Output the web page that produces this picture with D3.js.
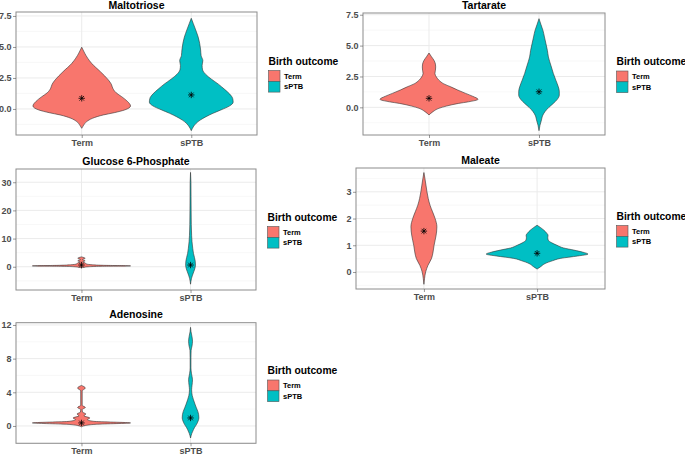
<!DOCTYPE html>
<html>
<head>
<meta charset="utf-8">
<script src="https://cdn.jsdelivr.net/npm/d3@7"></script>
<style>
  html, body { margin: 0; padding: 0; background: #fff; }
  svg { display: block; }
</style>
</head>
<body>
<svg id="chart" width="685" height="455"></svg>
<script>
// ---------------- DATA ----------------
const categories = ["Term", "sPTB"];
const legendTitle = "Birth outcome";
const panelTitles = ["Maltotriose", "Tartarate", "Glucose 6-Phosphate", "Maleate", "Adenosine"];

// y ticks per panel
const ticksMaltotriose = [0, 2.5, 5, 7.5];
const ticksTartarate   = [0, 2.5, 5, 7.5];
const ticksG6P         = [0, 10, 20, 30];
const ticksMaleate     = [0, 1, 2, 3];
const ticksAdenosine   = [0, 4, 8, 12];

// violin profiles: [value, relative half-width (1 = widest allowed)]
const maltTerm = [[4.98,0],[4.5,0.06],[4.1,0.12],[3.68,0.2],[3.0,0.38],[2.34,0.54],[2.0,0.6],[1.67,0.63],[1.3,0.7],[0.99,0.81],[0.6,0.93],[0.24,0.99],[-0.08,0.87],[-0.3,0.66],[-0.48,0.44],[-0.75,0.22],[-1.02,0.1],[-1.3,0.04],[-1.56,0]];
const maltSPTB = [[7.31,0],[6.9,0.04],[6.37,0.09],[5.8,0.14],[5.3,0.17],[4.76,0.19],[4.3,0.2],[3.9,0.235],[3.5,0.22],[3.15,0.23],[2.8,0.29],[2.4,0.41],[2.0,0.55],[1.6,0.67],[1.2,0.78],[0.85,0.84],[0.55,0.85],[0.25,0.78],[-0.08,0.6],[-0.35,0.44],[-0.62,0.3],[-0.9,0.18],[-1.15,0.1],[-1.45,0.04],[-1.75,0]];
const tartTerm = [[4.4,0],[4.1,0.05],[3.81,0.1],[3.5,0.13],[3.27,0.135],[3.0,0.13],[2.74,0.12],[2.45,0.15],[2.2,0.2],[1.9,0.3],[1.66,0.44],[1.4,0.58],[1.13,0.74],[0.9,0.88],[0.65,0.99],[0.45,0.8],[0.32,0.6],[0.1,0.35],[-0.08,0.2],[-0.35,0.08],[-0.62,0]];
const tartSPTB = [[7.18,0],[6.7,0.04],[6.23,0.08],[5.7,0.11],[5.16,0.14],[4.6,0.17],[4.08,0.19],[3.4,0.24],[2.74,0.29],[2.2,0.34],[1.66,0.39],[1.3,0.41],[0.99,0.41],[0.65,0.37],[0.32,0.29],[0.0,0.2],[-0.35,0.12],[-0.7,0.07],[-1.02,0.05],[-1.45,0.02],[-1.89,0]];
const g6pTerm  = [[3.5,0],[3.0,0.075],[2.55,0.02],[2.1,0.075],[1.7,0.025],[1.3,0.08],[1.0,0.1],[0.75,0.18],[0.5,0.45],[0.3,1.0],[0.15,0.4],[0.0,0.15],[-0.2,0.05],[-0.4,0]];
const g6pSPTB  = [[33.5,0],[30,0.008],[25,0.01],[20,0.012],[15,0.015],[11,0.022],[8.9,0.03],[6.5,0.045],[4.7,0.06],[3.3,0.08],[2.0,0.095],[0.6,0.1],[-0.8,0.085],[-1.8,0.065],[-3,0.04],[-4.1,0.02],[-5.2,0.008],[-6.2,0]];
const maleTerm = [[3.72,0],[3.5,0.02],[3.25,0.04],[3.0,0.06],[2.75,0.085],[2.5,0.12],[2.25,0.17],[2.0,0.22],[1.69,0.255],[1.38,0.24],[1.0,0.2],[0.75,0.18],[0.51,0.15],[0.25,0.08],[0.01,0.035],[-0.25,0.012],[-0.46,0]];
const maleSPTB = [[1.75,0],[1.66,0.07],[1.57,0.13],[1.45,0.19],[1.38,0.215],[1.28,0.21],[1.19,0.22],[1.1,0.28],[1.0,0.39],[0.9,0.52],[0.82,0.72],[0.74,0.9],[0.67,1.0],[0.6,0.8],[0.51,0.46],[0.42,0.3],[0.32,0.16],[0.2,0.07],[0.11,0]];
const adenTerm = [[4.82,0],[4.5,0.08],[4.18,0.015],[2.45,0.015],[2.2,0.08],[1.95,0.015],[1.65,0.02],[1.43,0.09],[1.2,0.05],[0.95,0.17],[0.75,0.12],[0.55,0.25],[0.36,1.0],[0.2,0.3],[0.05,0.08],[-0.1,0]];
const adenSPTB = [[11.72,0],[11.2,0.01],[10.6,0.03],[10.06,0.04],[9.5,0.03],[9.0,0.012],[8.1,0.008],[6.9,0.008],[6.2,0.02],[5.5,0.04],[4.8,0.03],[4.3,0.022],[3.6,0.035],[3.1,0.06],[2.6,0.09],[2.14,0.12],[1.7,0.15],[1.34,0.165],[0.95,0.17],[0.6,0.155],[0.16,0.12],[-0.2,0.08],[-0.43,0.06],[-0.9,0.025],[-1.43,0]];

// mean markers (asterisks): [Term, sPTB]
const meanMaltotriose = [0.86, 1.13];
const meanTartarate   = [0.73, 1.26];
const meanG6P         = [0.6, 0.6];
const meanMaleate     = [1.53, 0.7];
const meanAdenosine   = [0.36, 0.95];

// y-axis limits (as displayed)
const domMaltotriose = [-2.10, 7.82];
const domTartarate   = [-2.24, 7.64];
const domG6P         = [-8.26, 34.7];
const domMaleate     = [-0.635, 3.89];
const domAdenosine   = [-2.06, 12.27];

// ---------------- STYLE / LAYOUT ----------------
const colors = { "Term": "#F8766D", "sPTB": "#00BFC4" };
const FONT = "'Liberation Sans', Arial, Helvetica, sans-serif";

const panels = [
  { title: panelTitles[0], ticks: ticksMaltotriose, fmt: d3.format(".1f"), dom: domMaltotriose, v: [maltTerm, maltSPTB], mean: meanMaltotriose, x0: 16,  x1: 257, y0: 12,    y1: 135 },
  { title: panelTitles[1], ticks: ticksTartarate,   fmt: d3.format(".1f"), dom: domTartarate,   v: [tartTerm, tartSPTB], mean: meanTartarate,   x0: 363, x1: 605, y0: 13,    y1: 135 },
  { title: panelTitles[2], ticks: ticksG6P,         fmt: d3.format("d"),   dom: domG6P,         v: [g6pTerm, g6pSPTB],   mean: meanG6P,         x0: 16,  x1: 256, y0: 169,   y1: 290 },
  { title: panelTitles[3], ticks: ticksMaleate,     fmt: d3.format("d"),   dom: domMaleate,     v: [maleTerm, maleSPTB], mean: meanMaleate,     x0: 356, x1: 605, y0: 168,   y1: 289 },
  { title: panelTitles[4], ticks: ticksAdenosine,   fmt: d3.format("d"),   dom: domAdenosine,   v: [adenTerm, adenSPTB], mean: meanAdenosine,   x0: 16,  x1: 256, y0: 322.7, y1: 443.3 }
];

const svg = d3.select("#chart");
svg.append("rect").attr("width", 685).attr("height", 455).attr("fill", "#fff");

panels.forEach(p => {
  const g = svg.append("g");
  const x = d3.scalePoint().domain(categories).range([p.x0, p.x1]).padding(0.6);
  const y = d3.scaleLinear().domain(p.dom).range([p.y1, p.y0]);
  const maxHW = 0.45 * x.step();

  // minor grid
  const step = p.ticks[1] - p.ticks[0];
  const minors = [];
  for (let t = p.ticks[0] - step / 2; t <= p.dom[1]; t += step) {
    if (t >= p.dom[0]) minors.push(t);
  }
  g.selectAll(".minor").data(minors).join("line")
    .attr("x1", p.x0).attr("x2", p.x1)
    .attr("y1", d => y(d)).attr("y2", d => y(d))
    .attr("stroke", "#F4F4F4").attr("stroke-width", 0.6);
  // major grid
  g.selectAll(".major").data(p.ticks).join("line")
    .attr("x1", p.x0).attr("x2", p.x1)
    .attr("y1", d => y(d)).attr("y2", d => y(d))
    .attr("stroke", "#EBEBEB").attr("stroke-width", 1);
  g.selectAll(".majorx").data(categories).join("line")
    .attr("x1", d => x(d)).attr("x2", d => x(d))
    .attr("y1", p.y0).attr("y2", p.y1)
    .attr("stroke", "#EBEBEB").attr("stroke-width", 1);

  // violins
  categories.forEach((c, i) => {
    const cx = x(c);
    const prof = p.v[i].slice().sort((a, b) => b[0] - a[0]);
    const area = d3.area()
      .curve(d3.curveMonotoneY)
      .y(d => y(d[0]))
      .x0(d => cx - maxHW * d[1])
      .x1(d => cx + maxHW * d[1]);
    g.append("path").attr("d", area(prof))
      .attr("fill", colors[c])
      .attr("stroke", "#333333").attr("stroke-width", 0.6)
      .attr("stroke-linejoin", "round");
  });

  // mean asterisks
  categories.forEach((c, i) => {
    const cx = x(c), cy = y(p.mean[i]), r = 3.2;
    const d = `M${cx - r},${cy}L${cx + r},${cy}M${cx},${cy - r}L${cx},${cy + r}` +
              `M${cx - r * 0.72},${cy - r * 0.72}L${cx + r * 0.72},${cy + r * 0.72}` +
              `M${cx - r * 0.72},${cy + r * 0.72}L${cx + r * 0.72},${cy - r * 0.72}`;
    g.append("path").attr("d", d).attr("stroke", "#000").attr("stroke-width", 0.8).attr("fill", "none");
  });

  // frame
  g.append("rect")
    .attr("x", p.x0).attr("y", p.y0)
    .attr("width", p.x1 - p.x0).attr("height", p.y1 - p.y0)
    .attr("fill", "none").attr("stroke", "#8c8c8c").attr("stroke-width", 1);

  // y axis
  const yAxis = d3.axisLeft(y).tickValues(p.ticks).tickFormat(p.fmt).tickSize(3).tickPadding(1.5);
  const ya = g.append("g").attr("transform", `translate(${p.x0},0)`).call(yAxis);
  ya.select(".domain").remove();
  ya.selectAll("line").attr("stroke", "#555").attr("stroke-width", 0.6);
  ya.selectAll("text").attr("font-family", FONT).attr("font-size", 9).attr("font-weight", "bold").attr("fill", "#4D4D4D");

  // x axis
  const xAxis = d3.axisBottom(x).tickSize(3).tickPadding(1.5);
  const xa = g.append("g").attr("transform", `translate(0,${p.y1})`).call(xAxis);
  xa.select(".domain").remove();
  xa.selectAll("line").attr("stroke", "#555").attr("stroke-width", 0.6);
  xa.selectAll("text").attr("font-family", FONT).attr("font-size", 9).attr("font-weight", "bold").attr("fill", "#4D4D4D");

  // title
  g.append("text")
    .attr("x", (p.x0 + p.x1) / 2).attr("y", Math.max(p.y0 - 4.5, 9))
    .attr("text-anchor", "middle")
    .attr("font-family", FONT).attr("font-size", 10.5).attr("font-weight", "bold").attr("fill", "#000")
    .text(p.title);

  // legend
  const lx = p.x1 + 11.5;
  const ly = (p.y0 + p.y1) / 2 - 9;
  g.append("text")
    .attr("x", lx).attr("y", ly)
    .attr("font-family", FONT).attr("font-size", 10.3).attr("font-weight", "bold").attr("fill", "#000")
    .text(legendTitle);
  categories.forEach((c, i) => {
    const by = ly + 6 + i * 10.8;
    g.append("rect")
      .attr("x", lx).attr("y", by).attr("width", 11.5).attr("height", 10.8)
      .attr("fill", colors[c]).attr("stroke", "#555").attr("stroke-width", 0.6);
    g.append("text")
      .attr("x", lx + 15.5).attr("y", by + 8)
      .attr("font-family", FONT).attr("font-size", 7.5).attr("font-weight", "bold").attr("fill", "#000")
      .text(c);
  });
});
</script>
</body>
</html>
